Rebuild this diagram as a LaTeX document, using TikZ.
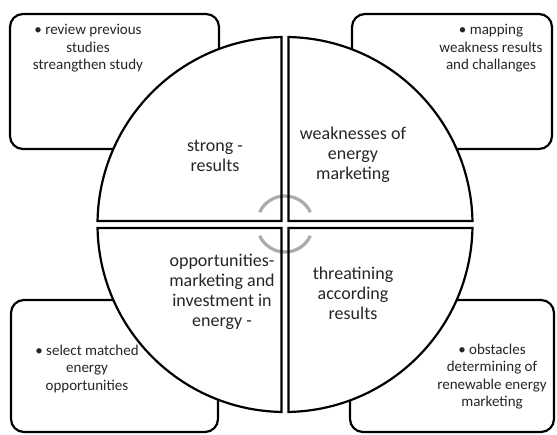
\documentclass[tikz,border=0pt]{standalone}
\usepackage{fontspec}
\setmainfont{Carlito}
\usetikzlibrary{calc}
\begin{document}
\begin{tikzpicture}[x=1pt,y=1pt,
  cornerbox/.style={draw=black,fill=white,line width=2.2pt,rounded corners=13pt},
  quarterfill/.style={fill=white},
  quarterline/.style={draw=black,line width=2.2pt,line join=miter},
  cyclearc/.style={draw=black!33,line width=3.2pt},
  boxtext/.style={align=center,font=\fontsize{15}{17.5}\selectfont,text=black!85},
  quartertext/.style={align=center,font=\fontsize{18}{20}\selectfont,text=black!85}]
\useasboundingbox (0,0) rectangle (557,434);
\def\cx{285}\def\cy{209.5}\def\R{187.5}\def\g{3.5}\def\d{1.07}
\coordinate (C) at (\cx,\cy);
% corner boxes
\draw[cornerbox] (10,285) rectangle (219,420);
\draw[cornerbox] (352,285) rectangle (552,420);
\draw[cornerbox] (11,2) rectangle (218,134);
\draw[cornerbox] (350,2) rectangle (554,134);
% quarter fills
\def\qTL{(\cx-\g,\cy+\g) -- ($(C)+(90+\d:\R)$) arc[start angle=90+\d,end angle=180-\d,radius=\R] -- cycle}
\def\qTR{(\cx+\g,\cy+\g) -- ($(C)+(\d:\R)$) arc[start angle=\d,end angle=90-\d,radius=\R] -- cycle}
\def\qBL{(\cx-\g,\cy-\g) -- ($(C)+(180+\d:\R)$) arc[start angle=180+\d,end angle=270-\d,radius=\R] -- cycle}
\def\qBR{(\cx+\g,\cy-\g) -- ($(C)+(270+\d:\R)$) arc[start angle=270+\d,end angle=360-\d,radius=\R] -- cycle}
\fill[quarterfill] \qTL; \fill[quarterfill] \qTR; \fill[quarterfill] \qBL; \fill[quarterfill] \qBR;
% cycle arcs
\coordinate (A) at (285,210);
\draw[cyclearc] ($(A)+(25:28)$) arc[start angle=25,end angle=155,radius=28];
\draw[cyclearc] ($(A)+(205:28)$) arc[start angle=205,end angle=335,radius=28];
% quarter outlines
\draw[quarterline] \qTL; \draw[quarterline] \qTR; \draw[quarterline] \qBL; \draw[quarterline] \qBR;
% texts
\node[boxtext] (tl) at (88,385.5) {• review previous\\studies\\streangthen study};
\node[boxtext] (tr) at (491,385.5) {• mapping\\weakness results\\and challanges};
\node[boxtext] (bl) at (87,65) {• select matched\\[0pt]energy\\[0pt]opportunities};
\node[boxtext] (br) at (492,57.5) {• obstacles\\determining of\\renewable energy\\marketing};
\node[quartertext] (s) at (215,278) {strong -\\results};
\node[quartertext] (w) at (353,279) {weaknesses of\\energy\\marketing};
\node[quartertext] (o) at (222,142) {opportunities-\\marketing and\\investment in\\energy -};
\node[quartertext] (t) at (353,141) {threatining\\according\\results};
\end{tikzpicture}
\end{document}
